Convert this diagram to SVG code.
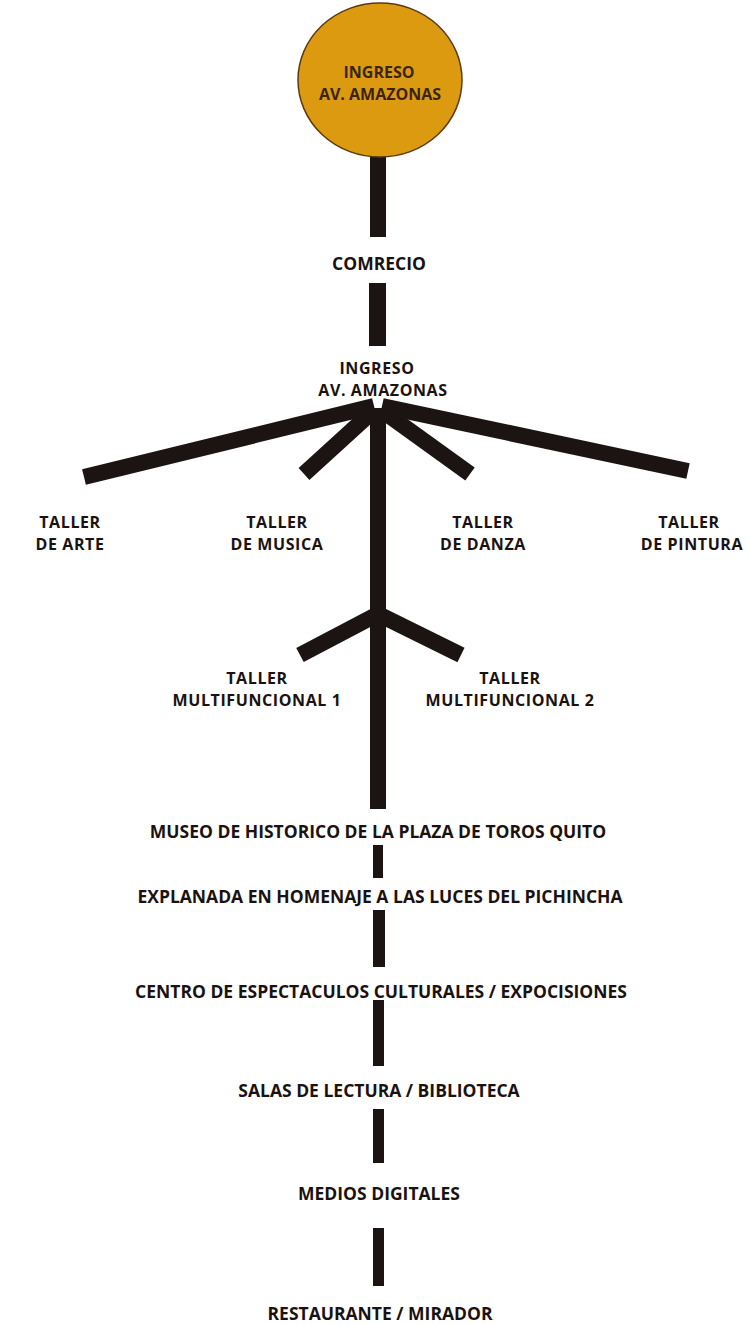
<svg xmlns="http://www.w3.org/2000/svg" width="750" height="1324" viewBox="0 0 750 1324">
<style>
.t{font-family:"Open Sans","Liberation Sans",sans-serif;font-weight:700;font-size:17.5px;fill:#1a1210;text-anchor:middle}
.t2{font-family:"Open Sans","Liberation Sans",sans-serif;font-weight:700;font-size:16px;letter-spacing:0.6px;fill:#1a1210;text-anchor:middle}
.tc{font-family:"Open Sans","Liberation Sans",sans-serif;font-weight:700;font-size:16px;fill:#3a2410;text-anchor:middle}
.c line{stroke:#1c1412;stroke-width:16;stroke-linecap:butt}
.c rect{fill:#1c1412}
</style>
<rect width="750" height="1324" fill="#ffffff"/>
<g id="connectors" class="c">
<rect x="370" y="155" width="16" height="82"/>
<rect x="369" y="283" width="17" height="63"/>
<line x1="374" y1="406" x2="84" y2="477"/>
<line x1="372" y1="412" x2="304" y2="474"/>
<line x1="384" y1="412" x2="470" y2="474"/>
<line x1="382" y1="406" x2="688" y2="471"/>
<rect x="370" y="408" width="16" height="401"/>
<line x1="378" y1="614" x2="300" y2="655"/>
<line x1="378" y1="614" x2="461" y2="655"/>
<rect x="373" y="845" width="10" height="33"/>
<rect x="373" y="910" width="12" height="57"/>
<rect x="373" y="1000" width="11" height="66"/>
<rect x="373" y="1109" width="11" height="54"/>
<rect x="373" y="1228" width="11" height="58"/>
</g>
<g id="ingreso-top">
<ellipse cx="380" cy="80" rx="82" ry="77" fill="#dc9a10" stroke="#5a3a10" stroke-width="1.5"/>
<text class="tc"><tspan x="379" y="78">INGRESO</tspan><tspan x="380" y="100">AV. AMAZONAS</tspan></text>
</g>
<g id="comercio"><text class="t" x="379" y="270">COMRECIO</text></g>
<g id="ingreso"><text class="t2"><tspan x="377" y="374">INGRESO</tspan><tspan x="383" y="396">AV. AMAZONAS</tspan></text></g>
<g id="taller-arte"><text class="t2"><tspan x="70" y="528">TALLER</tspan><tspan x="70" y="550">DE ARTE</tspan></text></g>
<g id="taller-musica"><text class="t2"><tspan x="277" y="528">TALLER</tspan><tspan x="277" y="550">DE MUSICA</tspan></text></g>
<g id="taller-danza"><text class="t2"><tspan x="483" y="528">TALLER</tspan><tspan x="483" y="550">DE DANZA</tspan></text></g>
<g id="taller-pintura"><text class="t2"><tspan x="689" y="528">TALLER</tspan><tspan x="692" y="550">DE PINTURA</tspan></text></g>
<g id="taller-multi1"><text class="t2"><tspan x="257" y="684">TALLER</tspan><tspan x="257" y="706">MULTIFUNCIONAL 1</tspan></text></g>
<g id="taller-multi2"><text class="t2"><tspan x="510" y="684">TALLER</tspan><tspan x="510" y="706">MULTIFUNCIONAL 2</tspan></text></g>
<g id="museo"><text class="t" x="378" y="838">MUSEO DE HISTORICO DE LA PLAZA DE TOROS QUITO</text></g>
<g id="explanada"><text class="t" x="380" y="903">EXPLANADA EN HOMENAJE A LAS LUCES DEL PICHINCHA</text></g>
<g id="centro"><text class="t" x="381" y="998">CENTRO DE ESPECTACULOS CULTURALES / EXPOCISIONES</text></g>
<g id="salas"><text class="t" x="379" y="1097">SALAS DE LECTURA / BIBLIOTECA</text></g>
<g id="medios"><text class="t" x="379" y="1200">MEDIOS DIGITALES</text></g>
<g id="restaurante"><text class="t" x="380" y="1320">RESTAURANTE / MIRADOR</text></g>
</svg>
